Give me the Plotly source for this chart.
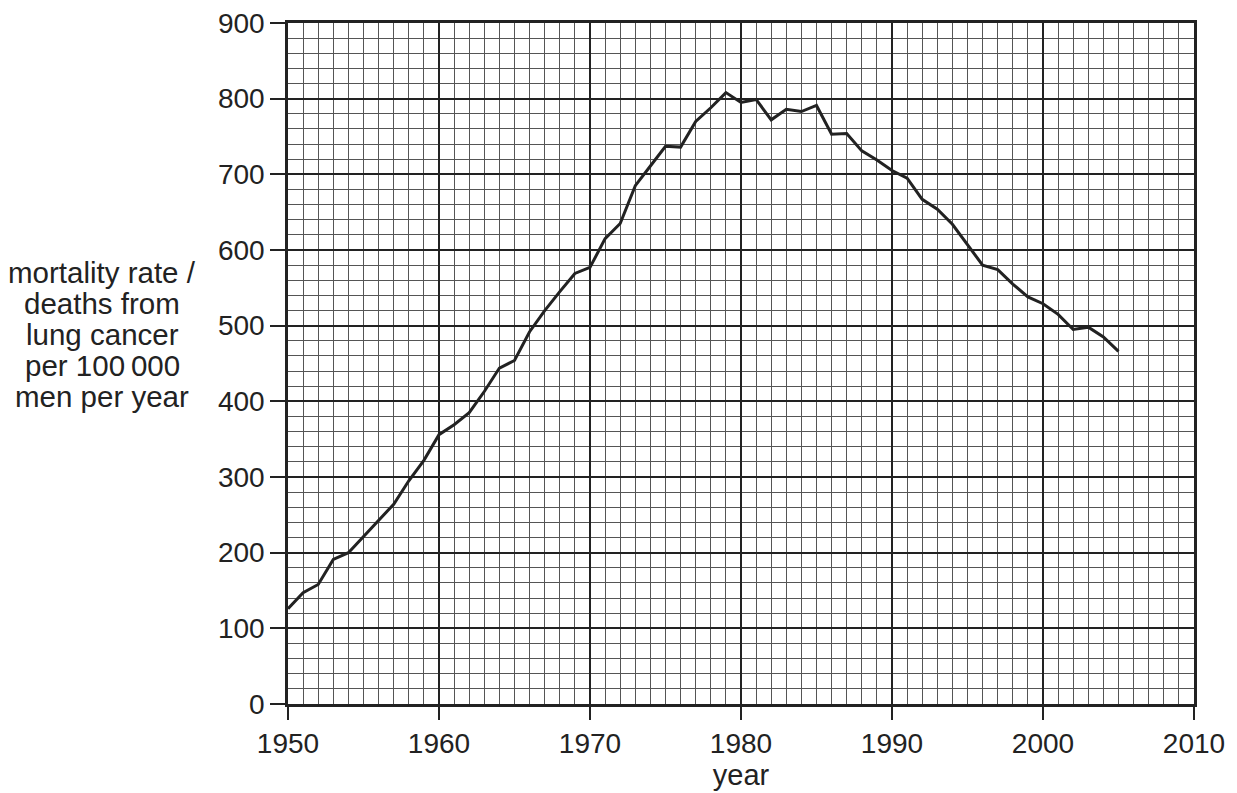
import plotly.graph_objects as go

years = list(range(1950, 2006))
mortality = [126, 147, 158, 191, 200, 221, 242, 264, 295, 322,
             356, 369, 385, 413, 444, 454, 492, 520, 545, 569,
             577, 615, 635, 685, 711, 737, 736, 770, 788, 808,
             795, 799, 772, 786, 783, 791, 753, 754, 731, 719,
             705, 695, 667, 654, 634, 607, 580, 574, 555, 538,
             529, 515, 495, 498, 485, 466]

x_ticks = [1950, 1960, 1970, 1980, 1990, 2000, 2010]
y_ticks = [0, 100, 200, 300, 400, 500, 600, 700, 800, 900]
y_title_lines = ["mortality rate /", "deaths from", "lung cancer", "per 100\u2009000", "men per year"]

font_family = "Liberation Sans, Arial, sans-serif"
ink = "#222222"

fig = go.Figure()
fig.add_trace(go.Scatter(x=years, y=mortality, mode="lines",
                         line=dict(color=ink, width=3), showlegend=False))

fig.update_xaxes(range=[1950, 2010], tickvals=x_ticks, ticks="outside", ticklen=13,
                 tickwidth=1.5, tickcolor=ink, showline=True, linecolor=ink, linewidth=2.5,
                 mirror=True, showgrid=True, gridcolor=ink, gridwidth=1.5,
                 minor=dict(dtick=1, showgrid=True, gridcolor="#555555", gridwidth=1, ticks=""),
                 zeroline=False, automargin=False, ticklabeloverflow="allow",
                 tickfont=dict(family=font_family, size=28, color=ink),
                 title=dict(text="year", font=dict(family=font_family, size=29, color=ink), standoff=6))
fig.update_yaxes(range=[0, 900], tickvals=y_ticks, ticks="outside", ticklen=15,
                 tickwidth=1.5, tickcolor=ink, showline=True, linecolor=ink, linewidth=2.5,
                 mirror=True, showgrid=True, gridcolor=ink, gridwidth=1.5,
                 minor=dict(dtick=20, showgrid=True, gridcolor="#555555", gridwidth=1, ticks=""),
                 zeroline=False, automargin=False, ticklabeloverflow="allow",
                 tickfont=dict(family=font_family, size=28, color=ink))

plot_top, plot_h = 23, 681
for i, line in enumerate(y_title_lines):
    ypx = 272 + 31 * i
    fig.add_annotation(xref="paper", yref="paper", x=-0.205, y=(plot_top + plot_h - ypx) / plot_h,
                       xanchor="center", yanchor="middle", text=line, showarrow=False,
                       font=dict(family=font_family, size=29.5, color=ink))

fig.update_layout(width=1237, height=793, margin=dict(l=280, r=51, t=15, b=97),
                  plot_bgcolor="white", paper_bgcolor="white")

fig.write_html("out.html")
